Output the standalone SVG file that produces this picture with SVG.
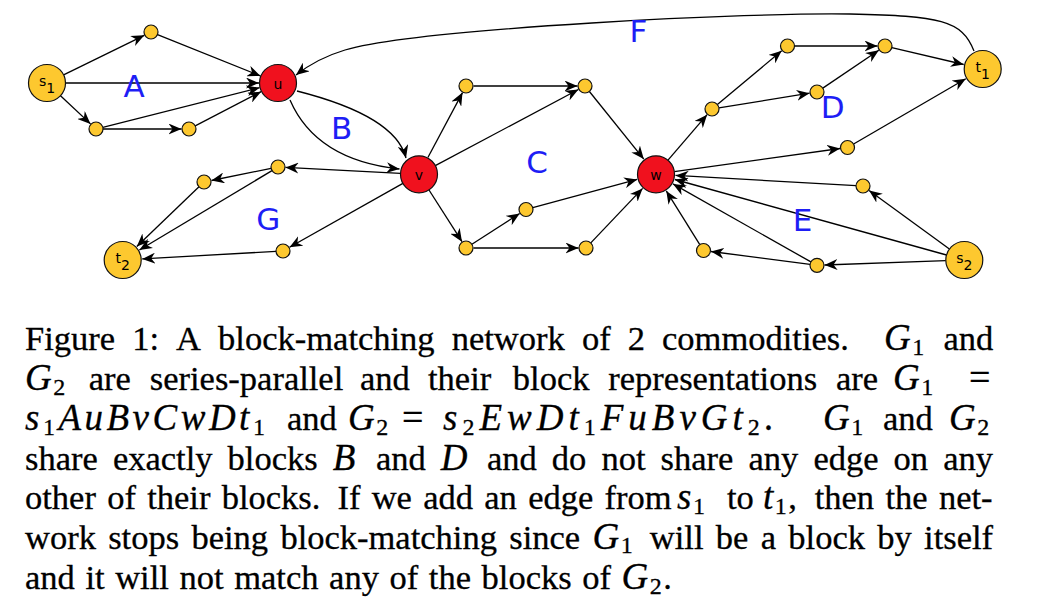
<svg xmlns="http://www.w3.org/2000/svg" width="1038" height="616" viewBox="0 0 1038 616">
<defs>
<style>
.e{fill:none;stroke:#000;stroke-width:1.3;marker-end:url(#ah)}
.y{fill:#FDC82F;stroke:#111;stroke-width:1.2}
.r{fill:#F0111E;stroke:#111;stroke-width:1.2}
.nl{font-family:"DejaVu Sans",Verdana,sans-serif;font-size:14px;text-anchor:middle;fill:#000}
.bl{font-family:"DejaVu Sans",Verdana,sans-serif;font-size:31px;text-anchor:middle;fill:#1E1EF5}
.cap{font-family:"Liberation Serif","Times New Roman",serif;font-size:34.5px;fill:#000;stroke:#000;stroke-width:0.3px}
.m{font-style:italic;font-size:37px;letter-spacing:1.5px}
.m1{letter-spacing:3.5px}
.m2{letter-spacing:5px}
.sb{font-style:normal;font-size:24px}
.eq{font-size:38px}
</style>
<marker id="ah" viewBox="0 0 13 11" refX="13" refY="5.5" markerWidth="13" markerHeight="11" markerUnits="userSpaceOnUse" orient="auto">
<path d="M0,0 L13,5.5 L0,11 L4,5.5 Z" fill="#000"/>
</marker>
</defs>
<rect width="1038" height="616" fill="#fff"/>
<g id="connectors">
<path class="e" d="M63.6,74.9 L144.3,35.3"/>
<path class="e" d="M157.5,34.6 L260.4,75.9"/>
<path class="e" d="M65.5,83 L259,83"/>
<path class="e" d="M60.5,95.7 L90.5,123.9"/>
<path class="e" d="M102.8,127.3 L259.6,87.7"/>
<path class="e" d="M103,129 L181.5,129"/>
<path class="e" d="M195.2,125.8 L261.1,91.7"/>
<path class="e" d="M297,91 Q395.5,116 406,158"/>
<path class="e" d="M290,100 Q316,160 399.5,169"/>
<path class="e" d="M427.9,157.5 L462.5,92.6"/>
<path class="e" d="M473.5,86 L577.5,86"/>
<path class="e" d="M435.3,165.6 L578.4,89.5"/>
<path class="e" d="M589.4,91.5 L643.8,159.1"/>
<path class="e" d="M429,190 L462,241.7"/>
<path class="e" d="M471.9,244.2 L519.7,213.5"/>
<path class="e" d="M532.8,207.7 L637.2,179.4"/>
<path class="e" d="M473.5,248 L578.5,248"/>
<path class="e" d="M590.8,242.9 L642.6,188.4"/>
<path class="e" d="M668,160.2 L707.1,114.7"/>
<path class="e" d="M717.4,104.5 L781.7,50.8"/>
<path class="e" d="M794.5,46 L877.5,46"/>
<path class="e" d="M718.9,107.9 L809.6,93.2"/>
<path class="e" d="M822.8,88.1 L878.8,50.2"/>
<path class="e" d="M891.8,47.6 L963.7,64.5"/>
<path class="e" d="M674.3,171.7 L840.1,148.5"/>
<path class="e" d="M853.6,144 L965.8,78.8"/>
<path class="e" d="M974,51 C962,20 940,16 850,14 C760,12 420,28 345,50 C325,56 310,64 296,75"/>
<path class="e" d="M400.5,173.3 L285.5,167.4"/>
<path class="e" d="M271.1,168.4 L211.4,180.5"/>
<path class="e" d="M199,186.8 L136.8,246.5"/>
<path class="e" d="M272,170.6 L139.4,250"/>
<path class="e" d="M402.9,183.4 L289.5,247.3"/>
<path class="e" d="M276,251.4 L142.2,258.9"/>
<path class="e" d="M949.4,249.1 L869.1,190.4"/>
<path class="e" d="M856,185.6 L675.5,175.4"/>
<path class="e" d="M946.5,255 L674.8,179.5"/>
<path class="e" d="M945.8,260.7 L824.5,265"/>
<path class="e" d="M810.9,261.9 L673,183.9"/>
<path class="e" d="M810.1,264.4 L711,251.5"/>
<path class="e" d="M699.8,244.6 L666.3,190.9"/>
</g>
<g id="s1"><circle class="y" cx="47" cy="83" r="18.5"/><text class="nl" x="47" y="86">s<tspan dy="7">1</tspan></text></g>
<g id="u"><circle class="r" cx="278" cy="83" r="18.5"/><text class="nl" x="278" y="88.5">u</text></g>
<g id="v"><circle class="r" cx="419" cy="174.3" r="18.5"/><text class="nl" x="419" y="179.5">v</text></g>
<g id="w"><circle class="r" cx="656" cy="174.3" r="18.5"/><text class="nl" x="656" y="179.5">w</text></g>
<g id="t1"><circle class="y" cx="982.7" cy="69" r="18.5"/><text class="nl" x="982.7" y="72">t<tspan dy="7">1</tspan></text></g>
<g id="t2"><circle class="y" cx="122.7" cy="260" r="18.5"/><text class="nl" x="122.7" y="263">t<tspan dy="7">2</tspan></text></g>
<g id="s2"><circle class="y" cx="964.3" cy="260" r="18.5"/><text class="nl" x="964.3" y="263">s<tspan dy="7">2</tspan></text></g>
<g id="a1"><circle class="y" cx="151" cy="32" r="7"/></g>
<g id="a2"><circle class="y" cx="96" cy="129" r="7"/></g>
<g id="a3"><circle class="y" cx="189" cy="129" r="7"/></g>
<g id="c1"><circle class="y" cx="466" cy="86" r="7"/></g>
<g id="c3"><circle class="y" cx="585" cy="86" r="7"/></g>
<g id="c2"><circle class="y" cx="466" cy="248" r="7"/></g>
<g id="c4"><circle class="y" cx="526" cy="209.5" r="7"/></g>
<g id="c5"><circle class="y" cx="586" cy="248" r="7"/></g>
<g id="d1"><circle class="y" cx="712" cy="109" r="7"/></g>
<g id="d2"><circle class="y" cx="787.5" cy="46" r="7"/></g>
<g id="d3"><circle class="y" cx="885" cy="46" r="7"/></g>
<g id="d4"><circle class="y" cx="817" cy="92" r="7"/></g>
<g id="d5"><circle class="y" cx="847.5" cy="147.5" r="7"/></g>
<g id="e1"><circle class="y" cx="863" cy="186" r="7"/></g>
<g id="e2"><circle class="y" cx="703.5" cy="250.5" r="7"/></g>
<g id="e3"><circle class="y" cx="817" cy="265.3" r="7"/></g>
<g id="g1"><circle class="y" cx="278" cy="167" r="7"/></g>
<g id="g2"><circle class="y" cx="204" cy="182" r="7"/></g>
<g id="g3"><circle class="y" cx="283" cy="251" r="7"/></g>
<g id="block-labels">
<text class="bl" x="134" y="96.5">A</text>
<text class="bl" x="341.7" y="139.3">B</text>
<text class="bl" x="537" y="173.3">C</text>
<text class="bl" x="832.7" y="118.3">D</text>
<text class="bl" x="802.5" y="230.7">E</text>
<text class="bl" x="638.3" y="42.3">F</text>
<text class="bl" x="268.3" y="230">G</text>
</g>
<g id="caption">
<text class="cap" y="350"><tspan x="25">Figure</tspan><tspan x="132.2">1:</tspan><tspan x="176.1">A</tspan><tspan x="218.1">block-matching</tspan><tspan x="451.7">network</tspan><tspan x="581.9">of</tspan><tspan x="627.7">2</tspan><tspan x="662">commodities.</tspan><tspan x="884" class="m">G<tspan class="sb" dy="5">1</tspan></tspan><tspan x="943.4" dy="-5">and</tspan></text>
<text class="cap" y="390"><tspan x="25" class="m">G<tspan class="sb" dy="5">2</tspan></tspan><tspan x="88.8" dy="-5">are</tspan><tspan x="149.8">series-parallel</tspan><tspan x="360">and</tspan><tspan x="428">their</tspan><tspan x="512.8">block</tspan><tspan x="608.3">representations</tspan><tspan x="836">are</tspan><tspan x="893" class="m">G<tspan class="sb" dy="5">1</tspan></tspan><tspan x="969" dy="-5" class="eq">=</tspan></text>
<text class="cap" y="429.5"><tspan x="25" class="m m1">s<tspan class="sb" dy="5">1</tspan><tspan dy="-5">AuBvCwDt</tspan><tspan class="sb" dy="5">1</tspan></tspan><tspan x="287" dy="-5">and</tspan><tspan x="348" class="m">G<tspan class="sb" dy="5">2</tspan></tspan><tspan x="402" dy="-5" class="eq">=</tspan><tspan x="443" class="m m2">s<tspan class="sb" dy="5">2</tspan><tspan dy="-5">EwDt</tspan><tspan class="sb" dy="5">1</tspan><tspan dy="-5">FuBvGt</tspan><tspan class="sb" dy="5">2</tspan><tspan dy="-5">.</tspan></tspan><tspan x="823" class="m">G<tspan class="sb" dy="5">1</tspan></tspan><tspan x="883" dy="-5">and</tspan><tspan x="949" class="m">G<tspan class="sb" dy="5">2</tspan></tspan></text>
<text class="cap" y="469.5"><tspan x="25">share</tspan><tspan x="112.9">exactly</tspan><tspan x="227.6">blocks</tspan><tspan x="332.8" class="m">B</tspan><tspan x="375.9">and</tspan><tspan x="440.8" class="m">D</tspan><tspan x="486.9">and</tspan><tspan x="551.8">do</tspan><tspan x="601.4">not</tspan><tspan x="660.6">share</tspan><tspan x="748.5">any</tspan><tspan x="813.4">edge</tspan><tspan x="893.6">on</tspan><tspan x="943.2">any</tspan></text>
<text class="cap" y="509"><tspan x="25">other</tspan><tspan x="107.2">of</tspan><tspan x="147.2">their</tspan><tspan x="221.7">blocks.</tspan><tspan x="337.4">If</tspan><tspan x="371.7">we</tspan><tspan x="423.2">add</tspan><tspan x="484.3">an</tspan><tspan x="528.2">edge</tspan><tspan x="604.6">from</tspan><tspan x="677" class="m">s<tspan class="sb" dy="5">1</tspan></tspan><tspan x="727" dy="-5">to</tspan><tspan x="763" class="m">t<tspan class="sb" dy="5">1</tspan></tspan><tspan dy="-5">,</tspan><tspan x="814.7">then</tspan><tspan x="885.4">the</tspan><tspan x="938.9">net-</tspan></text>
<text class="cap" y="549"><tspan x="25">work</tspan><tspan x="108.2">stops</tspan><tspan x="191.4">being</tspan><tspan x="280.4">block-matching</tspan><tspan x="509.3">since</tspan><tspan x="592.5" class="m">G<tspan class="sb" dy="4">1</tspan></tspan><tspan x="649.8" dy="-4">will</tspan><tspan x="715.8">be</tspan><tspan x="760.7">a</tspan><tspan x="788.3">block</tspan><tspan x="877.3">by</tspan><tspan x="924.1">itself</tspan></text>
<text class="cap" y="588.5"><tspan x="25">and</tspan><tspan x="85.4">it</tspan><tspan x="115.2">will</tspan><tspan x="179.5">not</tspan><tspan x="234.2">match</tspan><tspan x="329.1">any</tspan><tspan x="389.5">of</tspan><tspan x="428.8">the</tspan><tspan x="481.6">blocks</tspan><tspan x="582.3">of</tspan><tspan x="621.6" class="m">G<tspan class="sb" dy="5">2</tspan></tspan><tspan dy="-5">.</tspan></text>
</g>
</svg>
